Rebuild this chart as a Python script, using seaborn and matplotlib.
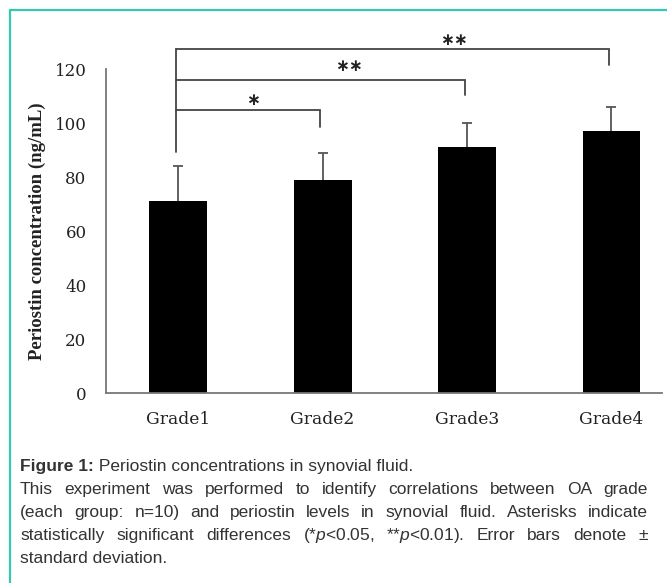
import matplotlib
matplotlib.use("Agg")
import matplotlib.pyplot as plt
from matplotlib.lines import Line2D
import seaborn as sns
import pandas as pd

# data
grades = ["Grade1", "Grade2", "Grade3", "Grade4"]
means = [71, 79, 91, 97]
sds = [13, 10, 9, 9]

# significance brackets: (left group, right group, label)
pairs = [(0, 1, "*"), (0, 2, "**"), (0, 3, "**")]
yticks = [0, 20, 40, 60, 80, 100, 120]

caption_title = "Figure 1:"
caption_head = " Periostin concentrations in synovial fluid."
caption_lines = [
    "This experiment was performed to identify correlations between OA grade",
    "(each group: n=10) and periostin levels in synovial fluid. Asterisks indicate",
    "statistically significant differences (*$\\it{p}$<0.05, **$\\it{p}$<0.01). Error bars denote \u00b1",
]
caption_last = "standard deviation."

sns.set_theme(style="white")
plt.rcParams["mathtext.fontset"] = "custom"
plt.rcParams["mathtext.it"] = "Liberation Sans:italic"
plt.rcParams["mathtext.rm"] = "Liberation Sans"

W, H = 667, 583
fig = plt.figure(figsize=(W / 100, H / 100), dpi=100)
fig.patch.set_facecolor("white")
ax = fig.add_axes([106 / W, 1 - 393 / H, (662 - 106) / W, (393 - 69) / H])

df = pd.DataFrame({"grade": grades, "mean": means})
sns.barplot(data=df, x="grade", y="mean", color="black", width=0.4,
            errorbar=None, saturation=1, ax=ax, zorder=2)
for p in ax.patches:
    p.set_edgecolor("none")

eb = ax.errorbar(range(len(grades)), means, yerr=[[0] * len(sds), sds], fmt="none",
                 ecolor="#555555", elinewidth=1.3, capsize=3.5, capthick=1.3, zorder=1)
eb[1][0].set_visible(False)  # only the upper cap

ax.set_xlim(-0.5, 3.35)
ax.set_ylim(0, 120)
ax.set_yticks(yticks)
ax.set_yticklabels([str(t) for t in yticks], family="DejaVu Serif", fontsize=12, color="#222222")
ax.set_xticklabels(grades, family="DejaVu Serif", fontsize=12.3, color="#222222")
ax.tick_params(axis="x", length=0, pad=13)
ax.tick_params(axis="y", direction="in", length=5, width=1, color="#666666", pad=14)
ax.set_xlabel("")
ax.set_ylabel("Periostin concentration (ng/mL)", family="Liberation Serif",
              fontweight="bold", fontsize=13.5, color="#222222", labelpad=6)
for s in ["top", "right"]:
    ax.spines[s].set_visible(False)
for s in ["left", "bottom"]:
    ax.spines[s].set_color("#777777")
    ax.spines[s].set_linewidth(1.3)

# significance brackets
bar_tops = [104.8, 115.9, 127.4]
drops = [98.5, 110.4, 121.5]
star_x = [0.52, 1.18, 1.91]
star_y = [108.6, 121.0, 130.8]
bc = "#444444"
ax.plot([-0.015, -0.015], [89.3, bar_tops[-1]], color=bc, lw=1.3, clip_on=False)
for (a, b, lab), top, dr, sx, sy in zip(pairs, bar_tops, drops, star_x, star_y):
    ax.plot([a - 0.015, b - 0.015, b - 0.015], [top, top, dr], color=bc, lw=1.3,
            clip_on=False, solid_joinstyle="miter")
    ax.text(sx, sy, lab.replace("*", "\u2217"), ha="center", va="center", family="DejaVu Sans",
            fontsize=12, fontweight="bold", color="#222222", clip_on=False)

# teal frame
frame = "#33c9b4"
fig.add_artist(Line2D([10 / W, 1], [1 - 10 / H, 1 - 10 / H], color=frame, lw=1.6,
                      transform=fig.transFigure))
fig.add_artist(Line2D([10 / W, 10 / W], [0, 1 - 10 / H], color=frame, lw=1.6,
                      transform=fig.transFigure))

# caption (baselines in px from top)
cfs = 12.5
cap_col = "#333333"
x0, x1 = 20, 648
rows = [471, 494, 517, 540, 563]
t1 = fig.text(x0 / W, 1 - rows[0] / H, caption_title, family="Liberation Sans",
              fontweight="bold", fontsize=cfs, color=cap_col, va="baseline")
renderer = fig.canvas.get_renderer()
w1 = t1.get_window_extent(renderer).width
fig.text((x0 + w1) / W, 1 - rows[0] / H, caption_head, family="Liberation Sans",
         fontsize=cfs, color=cap_col, va="baseline")

for line, yrow in zip(caption_lines, rows[1:4]):
    words = line.split(" ")
    arts = [fig.text(0, 1 - yrow / H, w, family="Liberation Sans", fontsize=cfs,
                     color=cap_col, va="baseline") for w in words]
    widths = [a.get_window_extent(renderer).width for a in arts]
    gap = ((x1 - x0) - sum(widths)) / (len(words) - 1)
    pos = x0
    for a, w in zip(arts, widths):
        a.set_x(pos / W)
        pos += w + gap
fig.text(x0 / W, 1 - rows[4] / H, caption_last, family="Liberation Sans",
         fontsize=cfs, color=cap_col, va="baseline")

fig.savefig("out.png", dpi=100, facecolor="white")
